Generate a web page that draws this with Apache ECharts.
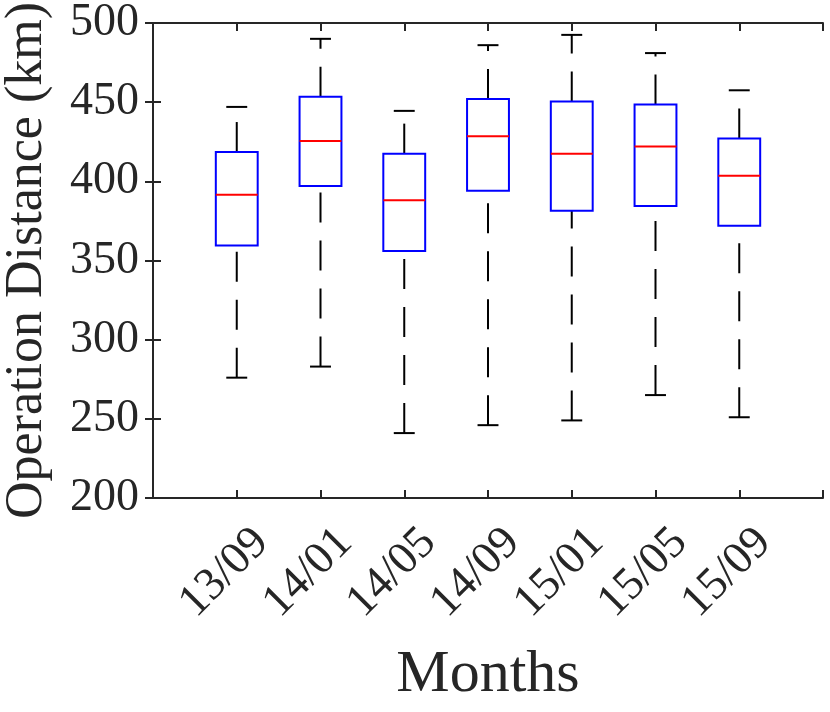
<!DOCTYPE html>
<html>
<head>
<meta charset="utf-8">
<script src="https://cdn.jsdelivr.net/npm/echarts@6/dist/echarts.min.js"></script>
<style>
  html, body { margin: 0; padding: 0; background: #fff; }
  #chart { width: 830px; height: 712px; }
</style>
</head>
<body>
<div id="chart"></div>
<script>
// values (km)
const months = ["13/09", "14/01", "14/05", "14/09", "15/01", "15/05", "15/09"];
const lowerWhisker = [276, 283, 241, 246, 249, 265, 251];
const q1 = [359.5, 397, 356, 394, 381.5, 384.5, 372];
const median = [391.5, 425.5, 388, 428.5, 417.5, 422, 403.5];
const q3 = [418.5, 453.5, 417.5, 452, 450.5, 448.5, 427];
const upperWhisker = [447, 490, 444.5, 486, 492.5, 481, 457.5];
const yTicks = [200, 250, 300, 350, 400, 450, 500];

const FONT = "Liberation Serif";
const AXIS_COLOR = "#262626";

const boxData = months.map((m, i) => [i + 1, lowerWhisker[i], q1[i], median[i], q3[i], upperWhisker[i]]);

function renderBox(params, api) {
    const x = api.value(0);
    const lo = api.coord([x, api.value(1)]);
    const b1 = api.coord([x, api.value(2)]);
    const md = api.coord([x, api.value(3)]);
    const b3 = api.coord([x, api.value(4)]);
    const hi = api.coord([x, api.value(5)]);
    const boxW = api.size([0.5, 0])[0];
    const capW = api.size([0.25, 0])[0];
    const cx = lo[0];

    const whisker = { stroke: "#000", lineWidth: 2, lineDash: [30, 18] };
    const solid = (color) => ({ stroke: color, lineWidth: 2, fill: null });

    return {
        type: "group",
        children: [
            // upper whisker, dashed from box to cap
            { type: "line", shape: { x1: cx, y1: b3[1], x2: cx, y2: hi[1] }, style: whisker },
            // lower whisker, dashed from cap to box
            { type: "line", shape: { x1: cx, y1: lo[1], x2: cx, y2: b1[1] }, style: whisker },
            { type: "line", shape: { x1: cx - capW / 2, y1: hi[1], x2: cx + capW / 2, y2: hi[1] }, style: solid("#000") },
            { type: "line", shape: { x1: cx - capW / 2, y1: lo[1], x2: cx + capW / 2, y2: lo[1] }, style: solid("#000") },
            { type: "rect", shape: { x: cx - boxW / 2, y: b3[1], width: boxW, height: b1[1] - b3[1] }, style: solid("#0000ff") },
            { type: "line", shape: { x1: cx - boxW / 2, y1: md[1], x2: cx + boxW / 2, y2: md[1] }, style: solid("#ff0000") }
        ]
    };
}

const axisLine = { show: true, lineStyle: { color: AXIS_COLOR, width: 2 } };
const axisTick = { show: true, inside: true, length: 8, lineStyle: { color: AXIS_COLOR, width: 2 } };

const option = {
    animation: false,
    backgroundColor: "#fff",
    grid: { left: 153, right: 7, top: 23, bottom: 214, outerBoundsMode: "none" },
    xAxis: [
        {
            type: "value", min: 0, max: 8, interval: 1,
            axisLine, axisTick, splitLine: { show: false },
            axisLabel: {
                rotate: 45,
                margin: 13,
                align: "right",
                verticalAlign: "top",
                lineHeight: 70,
                fontFamily: FONT,
                fontSize: 46,
                color: AXIS_COLOR,
                formatter: (v) => months[v - 1] || ""
            },
            name: "Months",
            nameLocation: "middle",
            nameGap: 147,
            nameTextStyle: { fontFamily: FONT, fontSize: 60, color: AXIS_COLOR }
        },
        {
            type: "value", position: "top", min: 0, max: 8, interval: 1,
            axisLine, axisTick, axisLabel: { show: false }, splitLine: { show: false }
        }
    ],
    yAxis: [
        {
            type: "value", min: yTicks[0], max: yTicks[yTicks.length - 1], interval: 50,
            axisLine, axisTick, splitLine: { show: false },
            axisLabel: { margin: 14, fontFamily: FONT, fontSize: 46, color: AXIS_COLOR },
            name: "Operation Distance (km)",
            nameLocation: "middle",
            nameGap: 100,
            nameTextStyle: { fontFamily: FONT, fontSize: 52, color: AXIS_COLOR }
        },
        {
            type: "value", position: "right", min: yTicks[0], max: yTicks[yTicks.length - 1], interval: 50,
            axisLine, axisTick, axisLabel: { show: false }, splitLine: { show: false }
        }
    ],
    series: [
        {
            type: "custom",
            xAxisIndex: 0,
            yAxisIndex: 0,
            data: boxData,
            renderItem: renderBox,
            silent: true
        }
    ]
};

const chart = echarts.init(document.getElementById("chart"));
chart.setOption(option);
</script>
</body>
</html>
